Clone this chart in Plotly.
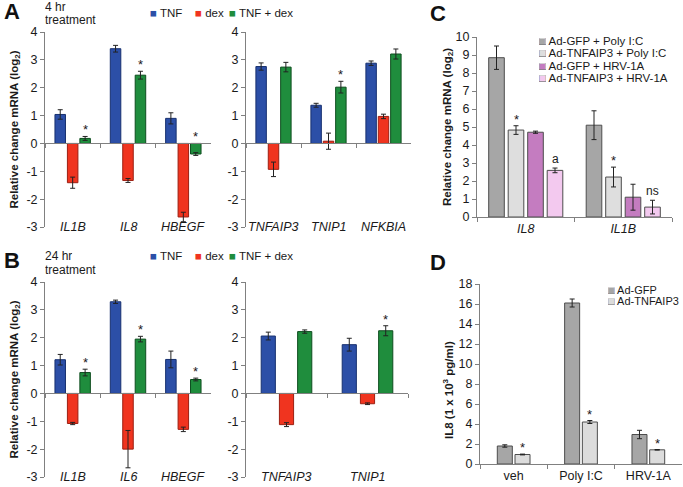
import plotly.graph_objects as go

W, H = 683, 487
FONT = "Arial, Liberation Sans, Helvetica, sans-serif"

# ---------------- data ----------------
ab_series = ["TNF", "dex", "TNF + dex"]
ab_ticks = [-3, -2, -1, 0, 1, 2, 3, 4]
ab_ticklabels = ["-3", "-2", "-1", "0", "1", "2", "3", "4"]

# Panel A (4 hr treatment), left
a_left_genes = ["IL1B", "IL8", "HBEGF"]
a_left_tnf = [1.04, 3.40, 0.90]
a_left_tnf_err = [0.17, 0.12, 0.20]
a_left_dex = [-1.41, -1.33, -2.64]
a_left_dex_err = [0.20, 0.07, 0.17]
a_left_combo = [0.18, 2.45, -0.38]
a_left_combo_err = [0.07, 0.14, 0.05]
a_left_marks = ["*", "*", "*"]

# Panel A, right
a_right_genes = ["TNFAIP3", "TNIP1", "NFKBIA"]
a_right_tnf = [2.76, 1.37, 2.88]
a_right_tnf_err = [0.13, 0.07, 0.08]
a_right_dex = [-0.93, 0.08, 0.97]
a_right_dex_err = [0.26, 0.29, 0.08]
a_right_combo = [2.74, 2.02, 3.21]
a_right_combo_err = [0.17, 0.21, 0.18]
a_right_marks = ["", "*", ""]

# Panel B (24 hr treatment), left
b_left_genes = ["IL1B", "IL6", "HBEGF"]
b_left_tnf = [1.21, 3.29, 1.22]
b_left_tnf_err = [0.19, 0.06, 0.30]
b_left_dex = [-1.08, -2.00, -1.29]
b_left_dex_err = [0.04, 0.67, 0.08]
b_left_combo = [0.75, 1.95, 0.50]
b_left_combo_err = [0.12, 0.10, 0.05]
b_left_marks = ["*", "*", "*"]

# Panel B, right
b_right_genes = ["TNFAIP3", "TNIP1"]
b_right_tnf = [2.06, 1.75]
b_right_tnf_err = [0.14, 0.23]
b_right_dex = [-1.12, -0.37]
b_right_dex_err = [0.07, 0.03]
b_right_combo = [2.22, 2.25]
b_right_combo_err = [0.06, 0.18]
b_right_marks = ["", "*"]

# Panel C
c_genes = ["IL8", "IL1B"]
c_series = ["Ad-GFP + Poly I:C", "Ad-TNFAIP3 + Poly I:C", "Ad-GFP + HRV-1A", "Ad-TNFAIP3 + HRV-1A"]
c_gfp_polyic = [8.85, 5.10]
c_gfp_polyic_err = [0.65, 0.80]
c_tnfaip3_polyic = [4.83, 2.22]
c_tnfaip3_polyic_err = [0.24, 0.55]
c_gfp_hrv = [4.71, 1.10]
c_gfp_hrv_err = [0.06, 0.72]
c_tnfaip3_hrv = [2.59, 0.55]
c_tnfaip3_hrv_err = [0.13, 0.38]
c_marks_tnfaip3_polyic = ["*", "*"]
c_marks_tnfaip3_hrv = ["a", "ns"]
c_ticks = list(range(0, 11))

# Panel D
d_groups = ["veh", "Poly I:C", "HRV-1A"]
d_series = ["Ad-GFP", "Ad-TNFAIP3"]
d_gfp = [1.80, 16.10, 2.95]
d_gfp_err = [0.12, 0.40, 0.42]
d_tnfaip3 = [0.95, 4.20, 1.42]
d_tnfaip3_err = [0.04, 0.15, 0.03]
d_marks_tnfaip3 = ["*", "*", "*"]
d_ticks = list(range(0, 19, 2))

# ---------------- style ----------------
AB_FILL = ["#2c4fa7", "#f0341f", "#1f8d3d"]
AB_LINE = ["#17306f", "#9c1f12", "#0e4d1f"]
C_FILL = ["#a6a6a6", "#dedede", "#c47cc0", "#f3c9ef"]
D_FILL = ["#a6a6a6", "#dcdcdc"]
GRAY_LINE = "#4d4d4d"
AXIS_LINE = "#808080"
TXT = "#1a1a1a"


def px_x(p):
    return p / W


def px_y(p):
    return 1 - p / H


fig = go.Figure()
annotations = []


def add_group(ax, cats, vals, errs, fills, lines, step, width, marks=None):
    n = len(vals)
    xa = "x" if ax == 1 else "x%d" % ax
    ya = "y" if ax == 1 else "y%d" % ax
    for k in range(n):
        center = (k - (n - 1) / 2) * step
        fig.add_trace(go.Bar(
            x=cats, y=vals[k], offset=center - width / 2, width=width,
            marker=dict(color=fills[k], line=dict(color=lines[k], width=1)),
            error_y=dict(type="data", array=errs[k], visible=True,
                         color="#222222", thickness=1, width=2.5),
            xaxis=xa, yaxis=ya, showlegend=False, hoverinfo="skip"))
        if marks and marks[k]:
            for i, m in enumerate(marks[k]):
                if not m:
                    continue
                v = vals[k][i]
                top = v + errs[k][i] if v >= 0 else 0
                annotations.append(dict(
                    x=i + center, y=top, xref=xa, yref=ya, text=m,
                    showarrow=False, yanchor="bottom",
                    yshift=-3 if m == "*" else 0,
                    font=dict(family=FONT, size=13 if m == "*" else 12, color=TXT)))


step_ab, w_ab = 0.225, 0.19
add_group(1, a_left_genes, [a_left_tnf, a_left_dex, a_left_combo],
          [a_left_tnf_err, a_left_dex_err, a_left_combo_err], AB_FILL, AB_LINE,
          step_ab, w_ab, [None, None, a_left_marks])
add_group(2, a_right_genes, [a_right_tnf, a_right_dex, a_right_combo],
          [a_right_tnf_err, a_right_dex_err, a_right_combo_err], AB_FILL, AB_LINE,
          step_ab, w_ab, [None, None, a_right_marks])
add_group(3, b_left_genes, [b_left_tnf, b_left_dex, b_left_combo],
          [b_left_tnf_err, b_left_dex_err, b_left_combo_err], AB_FILL, AB_LINE,
          step_ab, w_ab, [None, None, b_left_marks])
add_group(4, b_right_genes, [b_right_tnf, b_right_dex, b_right_combo],
          [b_right_tnf_err, b_right_dex_err, b_right_combo_err], AB_FILL, AB_LINE,
          0.225, 0.175, [None, None, b_right_marks])
add_group(5, c_genes, [c_gfp_polyic, c_tnfaip3_polyic, c_gfp_hrv, c_tnfaip3_hrv],
          [c_gfp_polyic_err, c_tnfaip3_polyic_err, c_gfp_hrv_err, c_tnfaip3_hrv_err],
          C_FILL, [GRAY_LINE] * 4, 0.20, 0.16,
          [None, c_marks_tnfaip3_polyic, None, c_marks_tnfaip3_hrv])
add_group(6, d_groups, [d_gfp, d_tnfaip3], [d_gfp_err, d_tnfaip3_err],
          D_FILL, [GRAY_LINE] * 2, 0.263, 0.223, [None, d_marks_tnfaip3])

tick_font = dict(family=FONT, size=12.5, color=TXT)
title_font = dict(family=FONT, size=11.5, color=TXT, weight="bold")
ytitle = "Relative change mRNA (log<sub>2</sub>)"


def yaxis(top, bottom, rng, tickvals, ticktext, title=None, standoff=5):
    d = dict(domain=[px_y(bottom), px_y(top)], range=rng, tickvals=tickvals,
             ticktext=ticktext, ticks="outside", ticklen=4, tickcolor=AXIS_LINE,
             showline=True, linecolor=AXIS_LINE, linewidth=1, showgrid=False,
             zeroline=False, tickfont=tick_font, automargin=False, fixedrange=True)
    if title:
        d["title"] = dict(text=title, font=title_font, standoff=standoff)
    return d


def xaxis_zero(left, right, top, bottom, cats, yr):
    y0, y1 = px_y(bottom), px_y(top)
    pos = y0 + (0 - yr[0]) / (yr[1] - yr[0]) * (y1 - y0)
    return dict(domain=[px_x(left), px_x(right)], anchor="free", position=pos,
                type="category", categoryorder="array", categoryarray=cats,
                range=[-0.5, len(cats) - 0.5], tickson="boundaries", ticks="outside",
                ticklen=4, tickcolor=AXIS_LINE, showline=True, linecolor=AXIS_LINE,
                linewidth=1, showticklabels=False, showgrid=False, zeroline=False,
                automargin=False, fixedrange=True)


def xaxis_bottom(left, right, anchor, cats, italic):
    return dict(domain=[px_x(left), px_x(right)], anchor=anchor, type="category",
                categoryorder="array", categoryarray=cats,
                range=[-0.5, len(cats) - 0.5], tickson="boundaries", ticks="outside",
                ticklen=4, tickcolor=AXIS_LINE, showline=True, linecolor=AXIS_LINE,
                linewidth=1, showgrid=False, zeroline=False, automargin=False,
                tickfont=dict(family=FONT, size=12.5, color=TXT,
                              style="italic" if italic else "normal"),
                fixedrange=True)


yr_ab = [-3, 4]
layout_axes = dict(
    xaxis=xaxis_zero(45, 211, 32, 227, a_left_genes, yr_ab),
    yaxis=yaxis(32, 227, yr_ab, ab_ticks, ab_ticklabels, ytitle),
    xaxis2=xaxis_zero(246, 411, 32, 227, a_right_genes, yr_ab),
    yaxis2=yaxis(32, 227, yr_ab, ab_ticks, ab_ticklabels),
    xaxis3=xaxis_zero(45, 211, 282, 477, b_left_genes, yr_ab),
    yaxis3=yaxis(282, 477, yr_ab, ab_ticks, ab_ticklabels, ytitle),
    xaxis4=xaxis_zero(246, 408, 282, 477, b_right_genes, yr_ab),
    yaxis4=yaxis(282, 477, yr_ab, ab_ticks, ab_ticklabels),
    xaxis5=xaxis_bottom(477, 672, "y5", c_genes, True),
    yaxis5=yaxis(37, 217, [0, 10], c_ticks, [str(t) for t in c_ticks], ytitle, standoff=1),
    xaxis6=xaxis_bottom(480, 682, "y6", d_groups, False),
    yaxis6=yaxis(284, 464, [0, 18], d_ticks, [str(t) for t in d_ticks]),
)
for i in range(2, 7):
    layout_axes["yaxis%d" % i]["anchor"] = "x%d" % i
layout_axes["yaxis"]["anchor"] = "x"

# category labels for the A/B panels (level with the bottom tick label)
for ax, cats in [(1, a_left_genes), (2, a_right_genes), (3, b_left_genes), (4, b_right_genes)]:
    xa = "x" if ax == 1 else "x%d" % ax
    ya = "y" if ax == 1 else "y%d" % ax
    for c in cats:
        annotations.append(dict(x=c, y=yr_ab[0], xref=xa, yref=ya, text=c,
                                showarrow=False, yanchor="middle",
                                font=dict(family=FONT, size=12.5, color=TXT, style="italic")))


def paper_text(x, y, text, size=12, xanchor="left", yanchor="middle", weight="normal",
               color=TXT, angle=0, height=None):
    a = dict(x=px_x(x), y=px_y(y), xref="paper", yref="paper", text=text,
             showarrow=False, xanchor=xanchor, yanchor=yanchor, textangle=angle,
             font=dict(family=FONT, size=size, color=color, weight=weight))
    if height:
        a["height"] = height
    annotations.append(a)


# panel letters
for letter, x, y in [("A", 12, 11), ("B", 12, 260), ("C", 438, 13), ("D", 438, 262)]:
    paper_text(x, y, letter, size=22, xanchor="center", weight="bold", color="#111111",
               height=20)

# treatment labels
paper_text(43, 7, "4 hr", size=12, height=12)
paper_text(43, 20, "treatment", size=12, height=13)
paper_text(43, 256, "24 hr", size=12, height=12)
paper_text(43, 269, "treatment", size=12, height=13)

# horizontal legends for A and B
for ly in (13, 256):
    for name, col, lx in zip(ab_series, AB_FILL, [148, 193, 227]):
        paper_text(lx, ly, '<span style="color:%s">\u25a0</span> %s' % (col, name), size=11.5)

# vertical legends for C and D (filled square + outline square overlaid)
for name, col, ly in zip(c_series, C_FILL, [41, 53.5, 66, 78]):
    paper_text(537, ly, '<span style="color:%s">\u25a0</span> %s' % (col, name), size=11.5,
               height=12)
    paper_text(537, ly, '\u25a1', size=11.5, color="#555555", height=12)
for name, col, ly in zip(d_series, D_FILL, [289, 300]):
    paper_text(606, ly, '<span style="color:%s">\u25a0</span> %s' % (col, name), size=11,
               height=11)
    paper_text(606, ly, '\u25a1', size=11, color="#666666", height=11)

# D y-axis title
paper_text(448, 390, "IL8 (1 x 10<sup>3</sup> pg/ml)", size=11.5, xanchor="center",
           weight="bold", angle=-90)

fig.update_layout(
    width=W, height=H, margin=dict(l=0, r=0, t=0, b=0),
    template="none", paper_bgcolor="white", plot_bgcolor="white",
    font=dict(family=FONT, color=TXT), barmode="group", showlegend=False,
    annotations=annotations, **layout_axes)

fig.write_html("out.html", config={"displayModeBar": False, "staticPlot": True},
               post_script="document.body.style.margin='0px';document.body.style.overflow='hidden';")
